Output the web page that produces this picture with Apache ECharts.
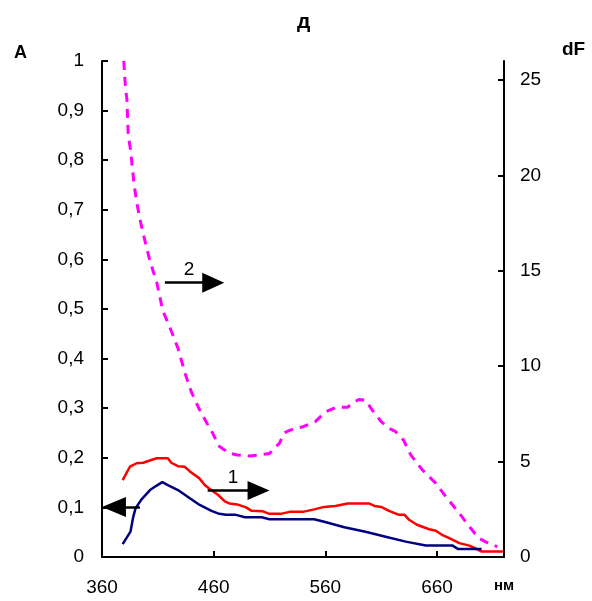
<!DOCTYPE html>
<html>
<head>
<meta charset="utf-8">
<script src="https://cdn.jsdelivr.net/npm/echarts@6/dist/echarts.min.js"></script>
<style>html,body{margin:0;padding:0;background:#fff}#c{width:592px;height:601px}</style>
</head>
<body>
<div id="c"></div>
<script>
// ---- Data ----
const xTicks = [360, 460, 560, 660];
const redX = [378.5,385,391,397,402,409,419,422,428,434,439,447,452,456,464,470,474,481,489,494,504,510,520,528,540,550,559,569,580,599,604,610,617,626,631,635,642,653,659,665,671,680,689,693,700,719];
const redY = [0.155,0.182,0.189,0.19,0.194,0.199,0.199,0.19,0.183,0.182,0.172,0.159,0.145,0.138,0.125,0.112,0.108,0.106,0.1,0.093,0.092,0.087,0.087,0.091,0.091,0.096,0.101,0.103,0.108,0.108,0.103,0.101,0.093,0.085,0.085,0.075,0.065,0.056,0.053,0.044,0.038,0.028,0.023,0.019,0.011,0.011];
const blueX = [378.5,385.5,388,390,395,403,409,414,419,428,439,447.5,458,465,471,480,488,503,510,550,559,577,596,614,632,650,674,679,700];
const blueY = [0.026,0.051,0.081,0.098,0.115,0.135,0.144,0.151,0.145,0.135,0.118,0.105,0.093,0.087,0.085,0.085,0.08,0.08,0.076,0.076,0.071,0.06,0.051,0.041,0.031,0.023,0.023,0.016,0.016];
const magX = [379.5,381,382.3,383,383.5,385.7,387,389,391.4,394,396.7,403,409,414.5,421,428,434,440,447.5,456,459,465,470,473,481,492,501,510,519,523,529,540,551,560,570,580,584,590,596,602,610,617,623,630,636.5,647,659,668,680,689,697.5,706,714];
const magY = [26,24.6,24.0,22.9,22.1,21.3,20.5,19.4,18.5,17.7,17.0,15.5,14.4,12.9,12.0,10.95,9.7,8.65,7.7,6.8,6.5,5.8,5.6,5.45,5.35,5.3,5.35,5.43,5.97,6.5,6.66,6.83,7.1,7.6,7.85,7.85,8.05,8.26,8.23,7.7,7.1,6.74,6.57,6.13,5.35,4.56,3.86,3.16,2.29,1.59,0.98,0.72,0.54];
// annotation arrows (data coordinates)
const arrow1 = [[454.6, 0.134], [500.2, 0.134]];
const arrowLeft = [[393.9, 0.101], [370.7, 0.101]];
const arrow2 = [[416.3, 14.38], [459.6, 14.38]];

const zip = (a, b) => a.map((v, i) => [v, b[i]]);
const FONT = '"Liberation Sans", Arial, sans-serif';

const chart = echarts.init(document.getElementById('c'), null, {renderer: 'canvas'});
const axisLine = {show: true, lineStyle: {color: '#000', width: 2}};
const axisTick = {show: true, inside: true, length: 6, lineStyle: {color: '#000', width: 2}};

const arrowStyle = {
  silent: true,
  animation: false,
  symbol: ['none', 'triangle'],
  symbolSize: [19, 22],
  lineStyle: {color: '#000', width: 2.5, type: 'solid'},
  label: {show: true, position: 'middle', formatter: '{b}', color: '#000', fontSize: 19, fontFamily: FONT, distance: 3}
};

chart.setOption({
  animation: false,
  backgroundColor: '#fff',
  title: {
    text: 'д', left: 292, top: 7,
    textStyle: {fontSize: 21, fontWeight: 'bold', color: '#000', fontFamily: FONT}
  },
  grid: {left: 102, right: 88, top: 61, bottom: 44, containLabel: false},
  xAxis: {
    type: 'value', min: 360, max: 720, interval: 100,
    axisLine: axisLine, axisTick: axisTick, splitLine: {show: false},
    axisLabel: {
      color: '#000', fontSize: 19, fontFamily: FONT, margin: 21,
      formatter: v => (v === 720 ? '{u|нм}' : String(v)),
      rich: {u: {fontSize: 15, fontWeight: 'bold', color: '#000', fontFamily: FONT, padding: [0, 0, 5, 0]}}
    }
  },
  yAxis: [
    {
      type: 'value', min: 0, max: 1, interval: 0.1, position: 'left',
      axisLine: axisLine, axisTick: axisTick, splitLine: {show: false},
      axisLabel: {color: '#000', fontSize: 19, fontFamily: FONT, margin: 18,
        formatter: v => String(+v.toFixed(1)).replace('.', ',')}
    },
    {
      type: 'value', min: 0, max: 26, interval: 5, position: 'right',
      axisLine: axisLine, axisTick: axisTick, splitLine: {show: false},
      axisLabel: {color: '#000', fontSize: 19, fontFamily: FONT, margin: 16, showMaxLabel: false}
    }
  ],
  series: [
    {
      name: 'red', type: 'line', yAxisIndex: 0, data: zip(redX, redY),
      symbol: 'none', lineStyle: {color: '#ff0000', width: 2.5}, itemStyle: {color: '#ff0000'},
      markLine: Object.assign({}, arrowStyle, {
        data: [
          [{coord: arrow1[0], name: '1'}, {coord: arrow1[1]}],
          [{coord: arrowLeft[0], name: ''}, {coord: arrowLeft[1], symbolSize: [20, 24]}]
        ]
      })
    },
    {
      name: 'blue', type: 'line', yAxisIndex: 0, data: zip(blueX, blueY),
      symbol: 'none', lineStyle: {color: '#000080', width: 2.5}, itemStyle: {color: '#000080'}
    },
    {
      name: 'magenta', type: 'line', yAxisIndex: 1, data: zip(magX, magY),
      symbol: 'none', lineStyle: {color: '#ff00ff', width: 3, type: [9, 7]}, itemStyle: {color: '#ff00ff'},
      markLine: Object.assign({}, arrowStyle, {
        data: [[{coord: arrow2[0], name: '2'}, {coord: arrow2[1], symbolSize: [20, 22]}]]
      })
    }
  ],
  graphic: [
    {type: 'text', left: 14, top: 44, style: {text: 'A', fontSize: 18, fontWeight: 'bold', fill: '#000', fontFamily: FONT}},
    {type: 'text', left: 562, top: 40, style: {text: 'dF', fontSize: 19, fontWeight: 'bold', fill: '#000', fontFamily: FONT}}
  ]
});
</script>
</body>
</html>
